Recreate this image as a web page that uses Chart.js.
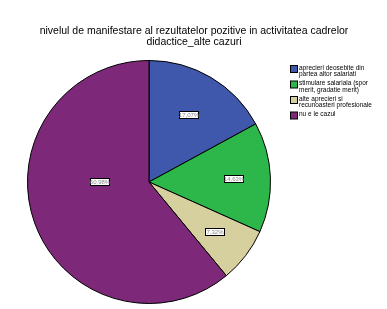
<!DOCTYPE html>
<html>
<head>
<meta charset="utf-8">
<script src="https://cdn.jsdelivr.net/npm/chart.js@4"></script>
<style>
	body { margin: 0; background: #fff; }
	canvas { display: block; }
</style>
</head>
<body>
<canvas id="chartPie" width="387" height="309"></canvas>
<script>
var titleLines = ['nivelul de manifestare al rezultatelor pozitive in activitatea cadrelor', 'didactice_alte cazuri'];

var categories = [
	['aprecieri deosebite din', 'partea altor salariati'],
	['stimulare salariala (spor', 'merit, gradatie merit)'],
	['alte aprecieri si', 'recunoasteri profesionale'],
	['nu e le cazul']
];
var percents = [17.07, 14.63, 7.32, 60.98];
var colors = ['#3F58AB', '#2DB74B', '#D6D09E', '#7D2879'];
// where each value box sits: share of radius, and turn (rad) off the slice middle
var labelDist = [0.64, 0.7, 0.68, 0.4];
var labelTurn = [0, 0, 0, 0.345];

var extras = {
	id: 'extras',
	afterDraw(chart) {
		let ctx = chart.ctx;
		ctx.save();

		// title
		ctx.fillStyle = '#000';
		ctx.font = '10.5px "Liberation Sans", Arial, sans-serif';
		ctx.textAlign = 'center';
		ctx.textBaseline = 'alphabetic';
		ctx.fillText(titleLines[0], 194, 34);
		ctx.fillText(titleLines[1], 194, 45);

		// legend
		ctx.textAlign = 'left';
		ctx.font = '6.5px "Liberation Sans", Arial, sans-serif';
		let y = 65;
		categories.forEach((lines, i) => {
			ctx.fillStyle = colors[i];
			ctx.fillRect(290.5, y + 0.5, 7, 7);
			ctx.strokeStyle = '#000';
			ctx.lineWidth = 1;
			ctx.strokeRect(290.5, y + 0.5, 7, 7);
			ctx.fillStyle = '#000';
			lines.forEach((t, j) => ctx.fillText(t, 299, y + 4.5 + j * 6.5));
			y += lines.length > 1 ? 15.5 : 12;
		});

		// value boxes
		let arcs = chart.getDatasetMeta(0).data;
		ctx.font = '6px "Liberation Sans", Arial, sans-serif';
		ctx.textAlign = 'center';
		ctx.textBaseline = 'middle';
		arcs.forEach((arc, i) => {
			let p = arc.getProps(['x', 'y', 'startAngle', 'endAngle', 'outerRadius']);
			let mid = (p.startAngle + p.endAngle) / 2 + labelTurn[i];
			let r = p.outerRadius * labelDist[i];
			let cx = Math.round(p.x + Math.cos(mid) * r);
			let cy = Math.round(p.y + Math.sin(mid) * r);
			let txt = percents[i].toFixed(2).replace('.', ',') + '%';
			ctx.fillStyle = '#fff';
			ctx.fillRect(cx - 9.5, cy - 3.5, 19, 7);
			ctx.strokeStyle = '#000';
			ctx.strokeRect(cx - 9.5, cy - 3.5, 19, 7);
			ctx.fillStyle = '#888';
			ctx.fillText(txt, cx, cy + 0.5);
		});

		ctx.restore();
	}
};

new Chart(document.getElementById('chartPie').getContext('2d'), {
	type: 'pie',
	data: {
		labels: categories.map(c => c.join(' ')),
		datasets: [{
			data: percents,
			backgroundColor: colors,
			borderColor: '#000',
			borderWidth: 1
		}]
	},
	options: {
		responsive: false,
		animation: false,
		devicePixelRatio: 1,
		layout: {
			padding: { left: 27, top: 60, right: 116, bottom: 5 }
		},
		plugins: {
			legend: { display: false },
			title: { display: false },
			tooltip: { enabled: false }
		}
	},
	plugins: [extras]
});
</script>
</body>
</html>
